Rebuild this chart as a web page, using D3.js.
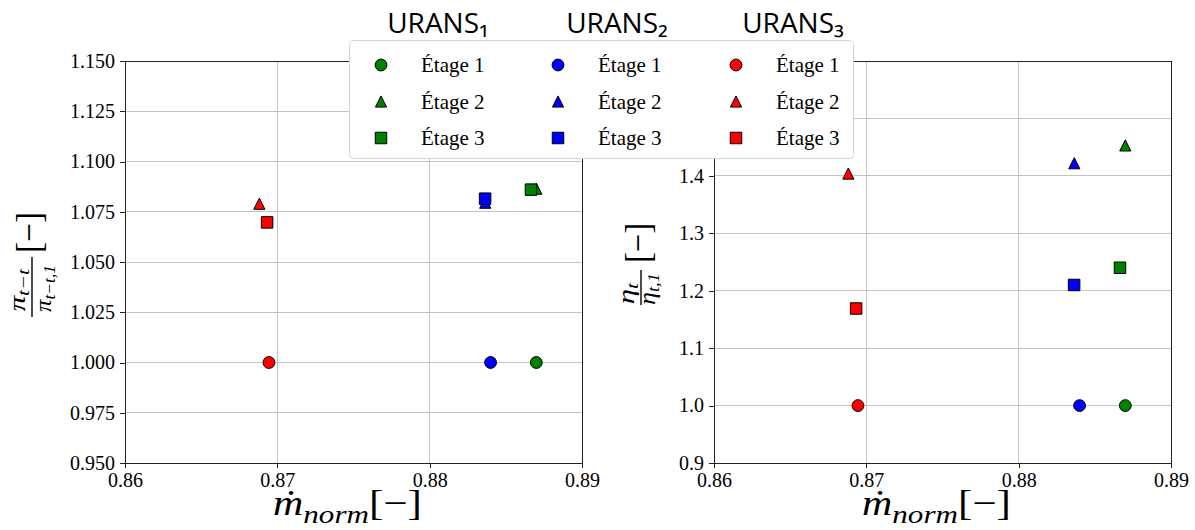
<!DOCTYPE html>
<html>
<head>
<meta charset="utf-8">
<script src="https://cdn.jsdelivr.net/npm/d3@7"></script>
</head>
<body style="margin: 0; background: #fff;">
<svg id="chart" width="1195" height="530" font-family="Liberation Serif"></svg>
<script>
// data
const stages = ["Étage 1", "Étage 2", "Étage 3"];
const runNames = ["URANS₁", "URANS₂", "URANS₃"];
const runColors = ["#008000", "#0000ff", "#ff0000"];

// mass flow (x) per stage, one array per run
const massFlow1 = [0.8870, 0.8870, 0.88665];
const massFlow2 = [0.8840, 0.88365, 0.88364];
const massFlow3 = [0.86945, 0.86882, 0.86933];

// total pressure ratio (left panel)
const piRatio1 = [1.000, 1.0865, 1.0860];
const piRatio2 = [1.000, 1.0795, 1.0815];
const piRatio3 = [1.000, 1.0790, 1.0697];

// efficiency ratio (right panel)
const etaRatio1 = [1.000, 1.453, 1.240];
const etaRatio2 = [1.000, 1.422, 1.210];
const etaRatio3 = [1.000, 1.404, 1.169];

const xTicks = [0.86, 0.87, 0.88, 0.89];
const piTicks = [0.950, 0.975, 1.000, 1.025, 1.050, 1.075, 1.100, 1.125, 1.150];
const etaTicks = [0.9, 1.0, 1.1, 1.2, 1.3, 1.4, 1.5, 1.6];

const massFlow = [massFlow1, massFlow2, massFlow3];
const piRatio = [piRatio1, piRatio2, piRatio3];
const etaRatio = [etaRatio1, etaRatio2, etaRatio3];

const SERIF_CSS = "font-family: 'Liberation Serif', serif !important";
const svg = d3.select("#chart");

const plotTop = 61, plotBottom = 463, plotW = 457;

// matplotlib style "^" triangle: width == height, centred at mid-height
const mplTriangle = {
    draw(ctx, size) {
        const r = Math.sqrt(size) / 2;
        ctx.moveTo(0, -r);
        ctx.lineTo(r, r);
        ctx.lineTo(-r, r);
        ctx.closePath();
    }
};
const shapes = [d3.symbolCircle, mplTriangle, d3.symbolSquare];
const shapeSize = [110, 125, 132];
const marker = i => d3.symbol().type(shapes[i]).size(shapeSize[i])();

// serif text helper
function serifText(parent) {
    return parent.append("text").attr("font-family", "Liberation Serif").attr("style", SERIF_CSS).attr("fill", "#000");
}

// stretch a text horizontally (in its own frame) to a target width, keeping its centre
function fitWidth(t, w) {
    const b = t.node().getBBox();
    const k = w / b.width;
    const cx = b.x + b.width / 2;
    t.attr("transform", `translate(${cx},0) scale(${k},1) translate(${-cx},0)`);
}

function drawPanel(left, yDomain, yTicks, yFormat, values) {
    const g = svg.append("g");
    const x = d3.scaleLinear().domain([0.86, 0.89]).range([left, left + plotW]);
    const y = d3.scaleLinear().domain(yDomain).range([plotBottom, plotTop]);

    const grid = g.append("g").attr("stroke", "#c4c4c4").attr("stroke-width", 1).attr("shape-rendering", "crispEdges");
    grid.selectAll(".gx").data(xTicks).join("line")
        .attr("x1", d => x(d)).attr("x2", d => x(d))
        .attr("y1", plotTop).attr("y2", plotBottom);
    grid.selectAll(".gy").data(yTicks).join("line")
        .attr("x1", left).attr("x2", left + plotW)
        .attr("y1", d => y(d)).attr("y2", d => y(d));

    const xAxis = g.append("g")
        .attr("transform", `translate(0, ${plotBottom})`)
        .call(d3.axisBottom(x).tickValues(xTicks).tickFormat(d3.format(".2f"))
            .tickSize(5).tickPadding(5).tickSizeOuter(0));
    const yAxis = g.append("g")
        .attr("transform", `translate(${left}, 0)`)
        .call(d3.axisLeft(y).tickValues(yTicks).tickFormat(d3.format(yFormat))
            .tickSize(5).tickPadding(5).tickSizeOuter(0));
    [xAxis, yAxis].forEach(a => {
        a.attr("font-family", "Liberation Serif").attr("font-size", 20);
        a.selectAll("text").attr("style", SERIF_CSS + "; font-size: 20px").attr("fill", "#000");
        a.selectAll("line, path").attr("stroke", "#222").attr("shape-rendering", "crispEdges");
    });

    g.append("rect")
        .attr("x", left).attr("y", plotTop)
        .attr("width", plotW).attr("height", plotBottom - plotTop)
        .attr("fill", "none").attr("stroke", "#222").attr("shape-rendering", "crispEdges");

    const pts = [];
    runColors.forEach((c, r) => {
        stages.forEach((s, i) => pts.push({ run: r, stage: i, mx: massFlow[r][i], v: values[r][i] }));
    });
    g.append("g").selectAll("path").data(pts).join("path")
        .attr("d", d => marker(d.stage))
        .attr("transform", d => `translate(${x(d.mx)}, ${y(d.v)})`)
        .attr("fill", d => runColors[d.run])
        .attr("stroke", "#000").attr("stroke-width", 1);

    // x label: m-dot_norm [-]
    const xl = serifText(g)
        .attr("x", left + plotW / 2 - 6).attr("y", 515)
        .attr("text-anchor", "middle");
    xl.append("tspan").attr("font-style", "italic").attr("font-size", 35).text("ṁ");
    xl.append("tspan").attr("font-style", "italic").attr("font-size", 26).attr("dy", 8).text("norm");
    xl.append("tspan").attr("font-size", 36).attr("dy", -8).text("[−]");
    fitWidth(xl, 149);
    return g;
}

drawPanel(125, [0.95, 1.15], piTicks, ".3f", piRatio);
drawPanel(714, [0.9, 1.6], etaTicks, ".1f", etaRatio);

// rotated fraction labels; local x runs up the page, local y runs to the right
function fracLabel(o) {
    const g = svg.append("g").attr("transform", `translate(${o.cx}, ${o.cy}) rotate(-90)`);
    g.append("line").attr("x1", o.bar[0]).attr("x2", o.bar[1]).attr("y1", 0).attr("y2", 0)
        .attr("stroke", "#000").attr("stroke-width", 1.4);
    [[o.num, o.numSub, o.numPos, o.numW], [o.den, o.denSub, o.denPos, o.denW]].forEach(([s, sub, p, w]) => {
        const t = serifText(g).attr("x", p[0]).attr("y", p[1]).attr("text-anchor", "middle");
        t.append("tspan").attr("font-style", "italic").attr("font-size", 24).text(s);
        t.append("tspan").attr("font-style", "italic").attr("font-size", 17).attr("dy", 4).text(sub);
        fitWidth(t, w);
    });
    const br = serifText(g).attr("x", o.brX).attr("y", 9).attr("text-anchor", "middle")
        .attr("font-size", 36).text("[−]");
    fitWidth(br, o.brW);
}
fracLabel({ cx: 32, cy: 255, bar: [-62, -2],
    num: "π", numSub: "t−t", numPos: [-35, -7], numW: 44,
    den: "π", denSub: "t−t,1", denPos: [-33.5, 19], denW: 47,
    brX: 22.5, brW: 41 });
fracLabel({ cx: 641, cy: 266.5, bar: [-38.5, -3.5],
    num: "η", numSub: "t", numPos: [-27, -7], numW: 23,
    den: "η", denSub: "t,1", denPos: [-22.5, 14], denW: 32,
    brX: 23.5, brW: 40 });

// legend
const legend = svg.append("g");
legend.append("rect")
    .attr("x", 349.5).attr("y", 40.5).attr("width", 504).attr("height", 118).attr("rx", 4)
    .attr("fill", "#fff").attr("stroke", "#d4d4d4");
const colX = [381, 558, 736];
const rowY = [65, 101.5, 138];
runColors.forEach((c, r) => {
    stages.forEach((s, i) => {
        legend.append("path")
            .attr("d", marker(i))
            .attr("transform", `translate(${colX[r]}, ${rowY[i]})`)
            .attr("fill", c).attr("stroke", "#000").attr("stroke-width", 1);
        serifText(legend)
            .attr("x", colX[r] + 40).attr("y", rowY[i] + 7)
            .attr("font-size", 21).text(s);
    });
    svg.append("text")
        .attr("x", [438, 617, 793][r]).attr("y", 33)
        .attr("text-anchor", "middle")
        .attr("font-family", "Open Sans").attr("font-size", 28).attr("fill", "#000")
        .text(runNames[r]);
});
</script>
</body>
</html>
